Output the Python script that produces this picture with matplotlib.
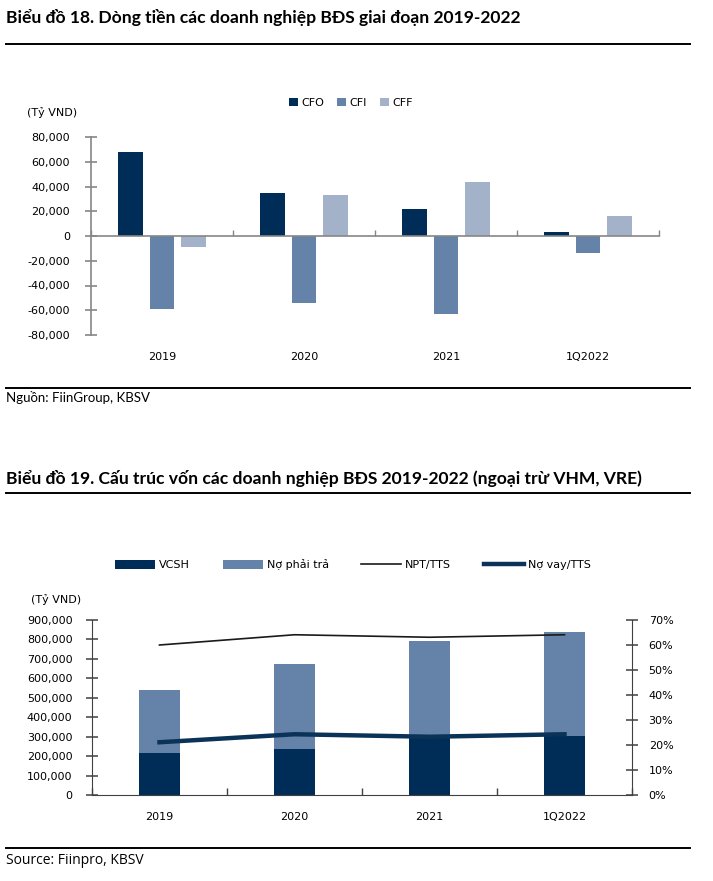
import matplotlib
matplotlib.use("Agg")
import matplotlib.pyplot as plt
import numpy as np
from matplotlib.lines import Line2D
from matplotlib.ticker import FuncFormatter, PercentFormatter

# data
years = ["2019", "2020", "2021", "1Q2022"]
cfo = [68000, 34500, 22000, 3200]
cfi = [-59000, -54500, -63000, -13700]
cff = [-8500, 32800, 43300, 16200]

vcsh = [218000, 238000, 305000, 303000]
no_phai_tra = [322000, 434000, 487000, 535000]
npt_tts = [0.60, 0.641, 0.631, 0.641]
no_vay_tts = [0.211, 0.243, 0.233, 0.243]

# colours
c_dark = "#002d57"
c_mid = "#6583a8"
c_light = "#a3b2c9"

W, H = 713, 881
fig = plt.figure(figsize=(W / 100, H / 100), dpi=100)
plt.rcParams["font.family"] = ["DejaVu Sans"]


def fx(px):
    return px / W


def fy(py):
    return 1 - py / H


def hline(py):
    fig.add_artist(Line2D([fx(6), fx(690)], [fy(py), fy(py)], transform=fig.transFigure,
                          color="black", lw=1.4))


thousands = FuncFormatter(lambda v, p: f"{v:,.0f}")

# titles, rules, sources
fig.text(fx(6), fy(18), "Biểu đồ 18. Dòng tiền các doanh nghiệp BĐS giai đoạn 2019-2022",
         family="Lato", weight="bold", fontsize=12.6, va="center", ha="left")
hline(44)
hline(388)
fig.text(fx(6), fy(398), "Nguồn: FiinGroup, KBSV", family="Lato", fontsize=9.5, va="center")
fig.text(fx(6), fy(478), "Biểu đồ 19. Cấu trúc vốn các doanh nghiệp BĐS 2019-2022 (ngoại trừ VHM, VRE)",
         family="Lato", weight="bold", fontsize=12.6, va="center", ha="left")
hline(493)
hline(848)
fig.text(fx(6), fy(861), "Source: Fiinpro, KBSV", family="Open Sans", fontsize=10, va="center")

# chart 18
ax1 = fig.add_axes([fx(91), fy(335), fx(659) - fx(91), fy(137) - fy(335)])
x = np.arange(len(years))
off, bw = 0.222, 0.176
ax1.bar(x - off, cfo, bw, color=c_dark, label="CFO")
ax1.bar(x, cfi, bw, color=c_mid, label="CFI")
ax1.bar(x + off, cff, bw, color=c_light, label="CFF")
ax1.set_xlim(-0.5, 3.5)
ax1.set_ylim(-80000, 80000)
ax1.set_yticks(np.arange(-80000, 80001, 20000))
ax1.yaxis.set_major_formatter(thousands)
for s in ["top", "right"]:
    ax1.spines[s].set_visible(False)
gray = "#868686"
ax1.spines["left"].set_color(gray)
ax1.spines["bottom"].set_color(gray)
ax1.spines["bottom"].set_position(("data", 0))
ax1.spines["left"].set_linewidth(1.2)
ax1.spines["bottom"].set_linewidth(1.2)
ax1.tick_params(axis="y", direction="inout", length=9, width=1.2, color=gray, labelsize=8, pad=10.5)
ax1.set_xticks(np.arange(-0.5, 3.6, 1))
ax1.tick_params(axis="x", direction="in", length=4, width=1, color=gray, labelbottom=False)
sec = ax1.secondary_xaxis("bottom")
sec.set_xticks(x, years)
sec.spines["bottom"].set_visible(False)
sec.tick_params(length=0, labelsize=8, pad=12)
fig.text(fx(52), fy(113), "(Tỷ VND)", fontsize=8, ha="center", va="center")
fig.legend(*ax1.get_legend_handles_labels(), loc="center", bbox_to_anchor=(fx(351), fy(103)),
           ncol=3, frameon=False, fontsize=8, handlelength=0.8, handleheight=0.8,
           handletextpad=0.3, columnspacing=1.2, borderpad=0)

# chart 19
ax2 = fig.add_axes([fx(92), fy(795), fx(632) - fx(92), fy(620) - fy(795)])
b1 = ax2.bar(x, vcsh, 0.31, color=c_dark, label="VCSH")
b2 = ax2.bar(x, no_phai_tra, 0.31, bottom=vcsh, color=c_mid, label="Nợ phải trả")
ax2.set_xlim(-0.5, 3.5)
ax2.set_ylim(0, 900000)
ax2.set_yticks(np.arange(0, 900001, 100000))
ax2.yaxis.set_major_formatter(thousands)
dk = "#404040"
for s in ["top", "right"]:
    ax2.spines[s].set_visible(False)
ax2.spines["left"].set_color(dk)
ax2.spines["bottom"].set_color(dk)
ax2.tick_params(axis="y", direction="inout", length=9, width=1.1, color=dk, labelsize=8, pad=9.5)
ax2.set_xticks(x, years)
ax2.tick_params(axis="x", length=0, labelsize=8, pad=12)
ax2.set_xticks(np.arange(-0.5, 3.6, 1), minor=True)
ax2.tick_params(axis="x", which="minor", direction="in", length=5, width=1, color=dk)

ax3 = ax2.twinx()
l1, = ax3.plot(x, npt_tts, color="#1a1a1a", lw=1.2, label="NPT/TTS")
l2, = ax3.plot(x, no_vay_tts, color="#0b3358", lw=3.2, label="Nợ vay/TTS")
ax3.set_ylim(0, 0.7)
ax3.set_yticks(np.arange(0, 0.71, 0.1))
ax3.yaxis.set_major_formatter(PercentFormatter(1.0, decimals=0))
for s in ["top", "left", "bottom"]:
    ax3.spines[s].set_visible(False)
ax3.spines["right"].set_color(dk)
ax3.tick_params(axis="y", direction="inout", length=9, width=1.1, color=dk, labelsize=8, pad=7.5)
fig.text(fx(56), fy(600), "(Tỷ VND)", fontsize=8, ha="center", va="center")
fig.legend([b1, b2, l1, l2], ["VCSH", "Nợ phải trả", "NPT/TTS", "Nợ vay/TTS"], loc="center",
           bbox_to_anchor=(fx(353), fy(565)), ncol=4, frameon=False, fontsize=8,
           handlelength=3.6, handleheight=0.8, handletextpad=0.35, columnspacing=2.95, borderpad=0)

fig.savefig("out.png", dpi=100)
